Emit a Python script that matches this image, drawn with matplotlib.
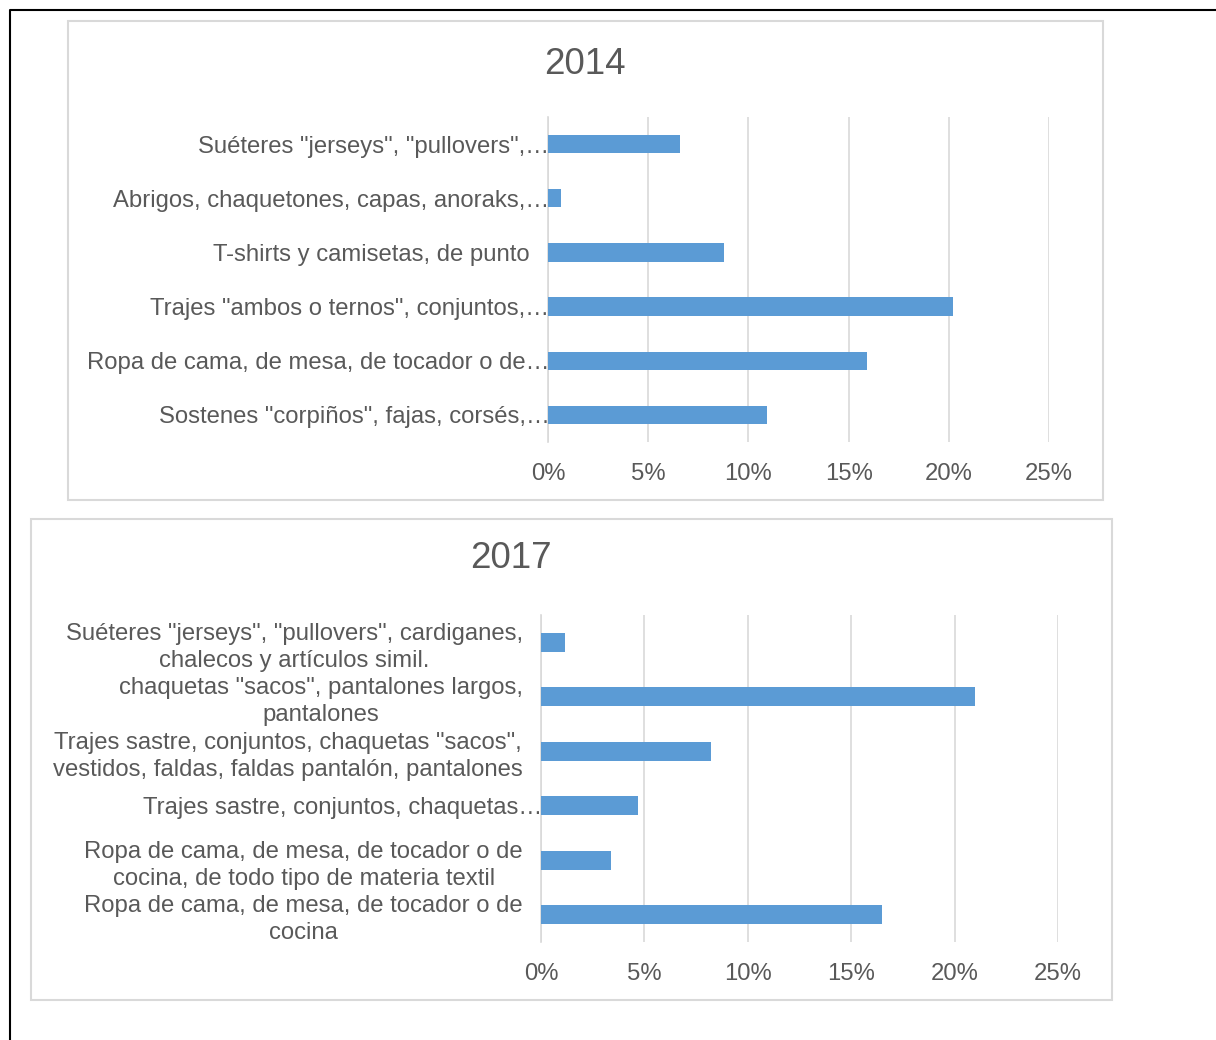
import matplotlib
matplotlib.use("Agg")
import matplotlib.pyplot as plt
from matplotlib.patches import Rectangle
from matplotlib.lines import Line2D
from matplotlib.ticker import PercentFormatter

plt.rcParams['font.family'] = ['Liberation Sans', 'DejaVu Sans']

# ------- data
labels_2014 = ['Suéteres "jerseys", "pullovers",…',
               'Abrigos, chaquetones, capas, anoraks,…',
               'T-shirts y camisetas, de punto',
               'Trajes "ambos o ternos", conjuntos,…',
               'Ropa de cama, de mesa, de tocador o de…',
               'Sostenes "corpiños", fajas, corsés,…']
values_2014 = [6.6, 0.65, 8.8, 20.2, 15.9, 10.95]

labels_2017 = ['Suéteres "jerseys", "pullovers", cardiganes,\nchalecos y artículos simil.',
               'chaquetas "sacos", pantalones largos,\npantalones',
               'Trajes sastre, conjuntos, chaquetas "sacos",\nvestidos, faldas, faldas pantalón, pantalones',
               'Trajes sastre, conjuntos, chaquetas…',
               'Ropa de cama, de mesa, de tocador o de\ncocina, de todo tipo de materia textil',
               'Ropa de cama, de mesa, de tocador o de\ncocina']
values_2017 = [1.15, 21.0, 8.2, 4.7, 3.4, 16.5]

xticks = [0, 5, 10, 15, 20, 25]

W, H = 1216, 1040
BAR = '#5B9BD5'
GRID = '#D9D9D9'
TXT = '#595959'


def px(x0, y0, x1, y1):
    # pixel box (top-left origin) -> figure fraction rect
    return [x0 / W, 1 - y1 / H, (x1 - x0) / W, (y1 - y0) / H]


def panel(fig, box, title, title_xy, axbox, labels, values, truncated):
    r = px(*box)
    fig.patches.append(Rectangle((r[0], r[1]), r[2], r[3], transform=fig.transFigure,
                                 facecolor='white', edgecolor=GRID, lw=1.5, zorder=-1))
    fig.text(title_xy[0] / W, 1 - title_xy[1] / H, title, ha='center', va='center',
             fontsize=26.5, color=TXT)

    ax = fig.add_axes(px(*axbox))
    ax.set_facecolor('none')
    ax.barh(range(len(values)), values, height=0.34, color=BAR, zorder=3)
    ax.set_ylim(len(values) - 0.5, -0.5)
    ax.set_xlim(0, 25)
    ax.set_xticks(xticks)
    ax.xaxis.set_major_formatter(PercentFormatter(decimals=0))
    ax.set_yticks(range(len(values)))
    ax.set_yticklabels(labels, multialignment='center', linespacing=1.3)
    ax.tick_params(axis='both', length=0, labelsize=17.2, labelcolor=TXT)
    ax.tick_params(axis='x', pad=15)
    ax.tick_params(axis='y', pad=13)
    for i, t in enumerate(ax.yaxis.get_major_ticks()):
        if truncated[i]:
            t.set_pad(-1)
    for s in ['top', 'right', 'bottom']:
        ax.spines[s].set_visible(False)
    ax.spines['left'].set_color(GRID)
    ax.spines['left'].set_linewidth(1.2)
    ax.grid(True, axis='x', color=GRID, lw=1.2, zorder=0)
    ax.set_axisbelow(True)
    return ax


fig = plt.figure(figsize=(W / 100, H / 100), dpi=100)
fig.patch.set_facecolor('white')

# black outer frame (top + left)
fig.add_artist(Line2D([10 / W, 10 / W, 1], [0, 1 - 10 / H, 1 - 10 / H],
                      transform=fig.transFigure, color='black', lw=1.5))

panel(fig, (68, 21, 1103, 500), '2014', (585, 64), (548, 117, 1049, 442),
      labels_2014, values_2014, [True, True, False, True, True, True])
panel(fig, (31, 519, 1112, 1000), '2017', (511, 559), (541, 615, 1058, 942),
      labels_2017, values_2017, [False, False, False, True, False, False])

fig.savefig('out.png', dpi=100)
